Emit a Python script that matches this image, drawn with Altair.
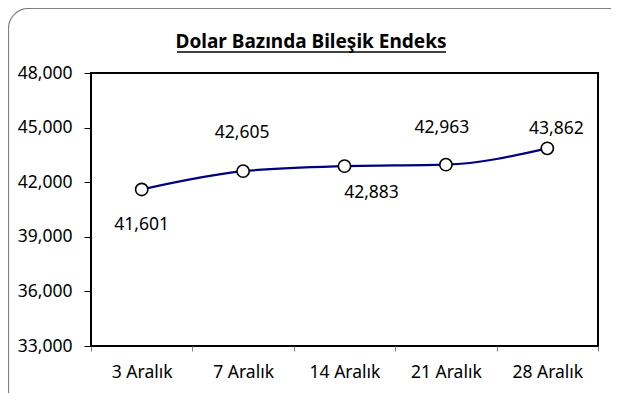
import altair as alt
import pandas as pd

# ---- data ----
categories = ["3 Aralık", "7 Aralık", "14 Aralık", "21 Aralık", "28 Aralık"]
values = [41601, 42605, 42883, 42963, 43862]
y_ticks = [33000, 36000, 39000, 42000, 45000, 48000]
title_text = "Dolar Bazında Bileşik Endeks"

# ---- styling: data label offsets (pixels) per category ----
label_offsets = {
    "3 Aralık": (0, 36),
    "7 Aralık": (-1, -38),
    "14 Aralık": (27, 27),
    "21 Aralık": (-4, -37),
    "28 Aralık": (9, -19),
}

df = pd.DataFrame({"cat": categories, "val": values})

FONT = "Noto Sans"
FS = 17.5
W, H = 507, 273

x_enc = alt.X(
    "cat:N",
    sort=categories,
    scale=alt.Scale(type="band", paddingInner=0, paddingOuter=0),
    bandPosition=0.5,
    axis=alt.Axis(
        title=None,
        labelAngle=0,
        labelFont=FONT,
        labelFontSize=FS,
        labelColor="black",
        labelPadding=12,
        tickBand="extent",
        tickSize=5,
        tickColor="#808080",
        domain=False,
        grid=False,
    ),
)
y_enc = alt.Y(
    "val:Q",
    scale=alt.Scale(domain=[33000, 48000], nice=False, zero=False),
    axis=alt.Axis(
        title=None,
        values=y_ticks,
        format=",d",
        labelFont=FONT,
        labelFontSize=FS,
        labelColor="black",
        labelPadding=12,
        tickSize=7,
        tickColor="black",
        domain=False,
        grid=False,
    ),
)

base = alt.Chart(df)

line = base.mark_line(interpolate="monotone", color="#000080", strokeWidth=2.2).encode(
    x=x_enc, y=y_enc
)
points = base.mark_point(
    shape="circle", filled=True, fill="white", stroke="black", strokeWidth=1.6, size=150, opacity=1
).encode(x=x_enc, y=y_enc)

label_layers = []
for c in categories:
    dx, dy = label_offsets[c]
    label_layers.append(
        base.transform_filter(alt.datum.cat == c)
        .mark_text(
            font=FONT, fontSize=FS, color="black", align="center", baseline="middle", dx=dx, dy=dy
        )
        .encode(x=x_enc, y=y_enc, text=alt.Text("val:Q", format=","))
    )

one = alt.Chart(pd.DataFrame({"k": [0]}))
frame = one.mark_rect(
    fill=None, stroke="#808080", strokeWidth=1.2, cornerRadius=20, clip=False
).encode(
    x=alt.value(-82.5), x2=alt.value(540), y=alt.value(-64.5), y2=alt.value(420)
)
title = one.mark_text(
    font=FONT, fontSize=19, fontWeight="bold", color="black", align="center", baseline="middle"
).encode(x=alt.value(220), y=alt.value(-31), text=alt.value(title_text))
underline = one.mark_rule(color="black", strokeWidth=1.3).encode(
    x=alt.value(86), x2=alt.value(355), y=alt.value(-21)
)

chart = (
    alt.layer(frame, line, points, *label_layers, title, underline)
    .properties(
        width=W,
        height=H,
        autosize="none",
        padding={"left": 83, "top": 65, "right": 13, "bottom": 47},
        background="white",
    )
    .configure_view(stroke="black", strokeWidth=2)
)

chart.save("out.html", embed_options={"renderer": "svg", "actions": False})
